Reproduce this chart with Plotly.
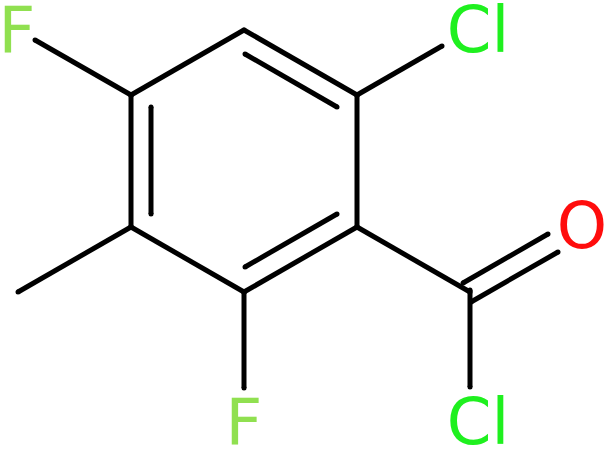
"""Skeletal drawing of 2-chloro-4,6-difluoro-5-methylbenzoyl chloride."""
import plotly.graph_objects as go

# Bond segments as (x0, y0, x1, y1), y runs downward like the picture.
ring_bonds = [
    (244, 30, 357, 95),
    (357, 95, 357, 227),
    (357, 227, 244, 292),
    (244, 292, 131, 227),
    (131, 227, 131, 95),
    (131, 95, 244, 30),
]
inner_bonds = [
    (245, 54, 337, 107),
    (337, 214, 245, 267),
    (151, 214, 151, 107),
]
side_bonds = [
    (131, 95, 35, 40),
    (357, 95, 442, 46),
    (131, 227, 18, 292),
    (244, 292, 244, 388),
    (357, 227, 470, 292),
    (470, 290, 470, 387),
    (463, 283, 548, 234),
    (471, 302, 558, 252),
]

atom_labels = ["F", "Cl", "O", "F", "Cl"]
atom_x = [17, 478, 582, 244, 478]
atom_y = [36, 36, 232, 428, 428]
atom_colors = ["#90E050", "#1FF01F", "#FF0D0D", "#90E050", "#1FF01F"]

BOND_WIDTH = 5
FONT_SIZE = 64

bond_x, bond_y = [], []
for x0, y0, x1, y1 in ring_bonds + inner_bonds + side_bonds:
    bond_x += [x0, x1, None]
    bond_y += [y0, y1, None]

fig = go.Figure()
# Markers give the round line ends, plotly has no linecap setting.
fig.add_trace(go.Scatter(
    x=bond_x, y=bond_y, mode="lines+markers",
    line=dict(color="black", width=BOND_WIDTH),
    marker=dict(color="black", size=BOND_WIDTH),
    hoverinfo="skip",
))
fig.add_trace(go.Scatter(
    x=atom_x, y=atom_y, mode="text", text=atom_labels,
    textposition="middle center",
    textfont=dict(family="DejaVu Sans", size=FONT_SIZE, color=atom_colors),
    hoverinfo="skip",
))

fig.update_layout(
    width=609, height=450,
    margin=dict(l=0, r=0, t=0, b=0),
    paper_bgcolor="white", plot_bgcolor="white",
    showlegend=False,
    xaxis=dict(range=[0, 609], visible=False),
    yaxis=dict(range=[450, 0], visible=False),
)

# The page's default body margin would push the figure 8px off.
fig.write_html("out.html", config={"displayModeBar": False},
               post_script="document.body.style.margin = '0';")
